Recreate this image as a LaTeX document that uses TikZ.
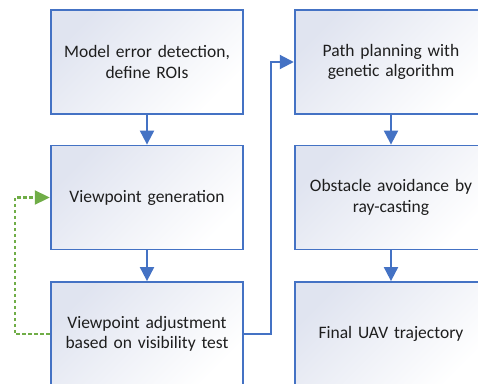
\documentclass[tikz,border=0pt]{standalone}
\usepackage{fontspec}
\setmainfont{Carlito}
\usetikzlibrary{arrows.meta}
\definecolor{boxblue}{RGB}{68,114,196}
\definecolor{retrygreen}{RGB}{112,173,71}
\definecolor{boxshade}{RGB}{224,228,240}
\definecolor{inktext}{RGB}{30,30,30}
\tikzset{
	stage/.style={draw=boxblue,line width=1.8pt,minimum width=190pt,minimum height=104pt,
		text width=186pt,align=center,font=\fontsize{17.5}{20.5}\selectfont,text=inktext,
		shading=axis,top color=boxshade,bottom color=white,shading angle=45},
	flow/.style={draw=boxblue,line width=2pt,-{Triangle[width=14pt,length=14pt]}},
	retry/.style={draw=retrygreen,line width=2.2pt,dash pattern=on 3.5pt off 2.5pt,
		-{Triangle[width=14pt,length=15pt]}}
}
\begin{document}
\begin{tikzpicture}[x=1pt,y=1pt,line cap=butt,line join=miter]
	\useasboundingbox (0,0) rectangle (478,-383);
	% left column
	\node[stage] (detect) at (147,-62) {Model error detection,\\ define ROIs};
	\node[stage] (gen) at (147,-197.5) {Viewpoint generation};
	\node[stage] (adjust) at (147,-334) {Viewpoint adjustment\\ based on visibility test};
	% right column
	\node[stage] (plan) at (391,-62) {Path planning with\\ genetic algorithm};
	\node[stage] (avoid) at (391,-197.5) {Obstacle avoidance by\\ ray-casting};
	\node[stage] (final) at (391,-334) {Final UAV trajectory};
	% arrows
	\draw[flow] (detect) -- (gen);
	\draw[flow] (gen) -- (adjust);
	\draw[flow] (plan) -- (avoid);
	\draw[flow] (avoid) -- (final);
	\draw[flow] (adjust.east) -- ++(27,0) |- (plan.west);
	\draw[retry] (adjust.west) -- ++(-35,0) |- (gen.west);
\end{tikzpicture}
\end{document}
